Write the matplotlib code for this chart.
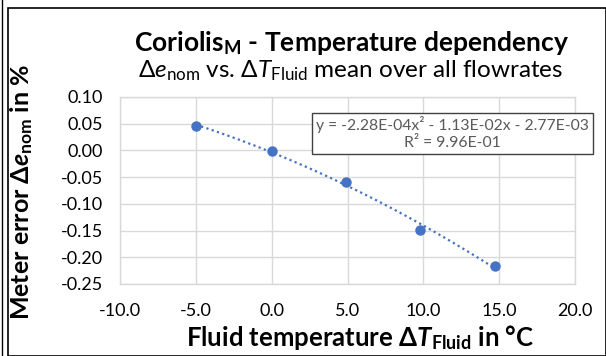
import numpy as np
import matplotlib
matplotlib.use('Agg')
import matplotlib.pyplot as plt
from matplotlib.patches import Rectangle
from matplotlib.lines import Line2D

# data
temp_diff = [-5.0, 0.0, 4.9, 9.8, 14.7]
meter_err = [0.046, -0.001, -0.059, -0.148, -0.216]
x_ticks = [-10.0, -5.0, 0.0, 5.0, 10.0, 15.0, 20.0]
y_ticks = [0.10, 0.05, 0.00, -0.05, -0.10, -0.15, -0.20, -0.25]
eq_text = "y = -2.28E-04x² - 1.13E-02x - 2.77E-03\nR² = 9.96E-01"

plt.rcParams['font.family'] = ['Lato', 'DejaVu Sans']
plt.rcParams['mathtext.fontset'] = 'custom'
plt.rcParams['mathtext.rm'] = 'Lato'
plt.rcParams['mathtext.it'] = 'Lato:italic'
plt.rcParams['mathtext.bf'] = 'Lato:bold'
plt.rcParams['mathtext.bfit'] = 'Lato:bold:italic'

blue = '#4472C4'
grid = '#d9d9d9'
text_col = '#595959'

fig = plt.figure(figsize=(6.06, 3.56), dpi=100)
W, H = 606, 356
ax = fig.add_axes([120 / W, 1 - 284 / H, (575 - 120) / W, (284 - 97) / H])

ax.plot(temp_diff, meter_err, 'o', color=blue, markersize=6.5, zorder=3)

# 2nd order polynomial trendline
coef = np.polyfit(temp_diff, meter_err, 2)
xs = np.linspace(min(temp_diff), max(temp_diff), 200)
ax.plot(xs, np.polyval(coef, xs), color=blue, linestyle=(0, (1, 1.5)), linewidth=1.6, zorder=2)

ax.set_xlim(-10, 20)
ax.set_ylim(-0.25, 0.10)
ax.set_xticks(x_ticks)
ax.set_yticks(y_ticks)
ax.set_xticklabels([f'{v:.1f}' for v in x_ticks])
ax.set_yticklabels([f'{v:.2f}' for v in y_ticks])
ax.tick_params(axis='y', length=0, labelsize=13, labelcolor='black', pad=12)
ax.tick_params(axis='x', length=0, labelsize=13, labelcolor='black', pad=14)
ax.grid(True, color=grid, linewidth=1)
for s in ax.spines.values():
    s.set_color(grid)
    s.set_linewidth(1)

ax.text(0.73, 0.807, eq_text, transform=ax.transAxes, ha='center', va='center',
        fontsize=11.3, color=text_col, linespacing=1.2,
        bbox=dict(boxstyle='square,pad=0.25', fc='white', ec='#404040', lw=1))

fig.text(351 / W, 1 - 43 / H, r'Coriolis$_{\mathbf{M}}$ - Temperature dependency',
         ha='center', va='center', fontsize=19, fontweight='bold')
fig.text(351 / W, 1 - 71 / H, r'$\Delta \mathit{e}_{\mathrm{nom}}$ vs. $\Delta \mathit{T}_{\mathrm{Fluid}}$ mean over all flowrates',
         ha='center', va='center', fontsize=17.5)
fig.text(360 / W, 1 - 338 / H, r'Fluid temperature $\mathbf{\Delta} \mathbfit{T}_{\mathbf{Fluid}}$ in °C',
         ha='center', va='center', fontsize=18.5, fontweight='bold')
fig.text(22 / W, 1 - 192 / H, r'Meter error $\mathbf{\Delta} \mathbfit{e}_{\mathbf{nom}}$ in %',
         ha='center', va='center', fontsize=18, fontweight='bold', rotation=90)

# outer chart frame
fig.add_artist(Rectangle((8 / W, 0), 1 - 8 / W, 1 - 8 / H, transform=fig.transFigure,
                         fill=False, ec='black', lw=1.2))
fig.add_artist(Line2D([2 / W, 2 / W], [0, 1], transform=fig.transFigure, color='black', lw=1))

fig.savefig('out.png', dpi=100)
